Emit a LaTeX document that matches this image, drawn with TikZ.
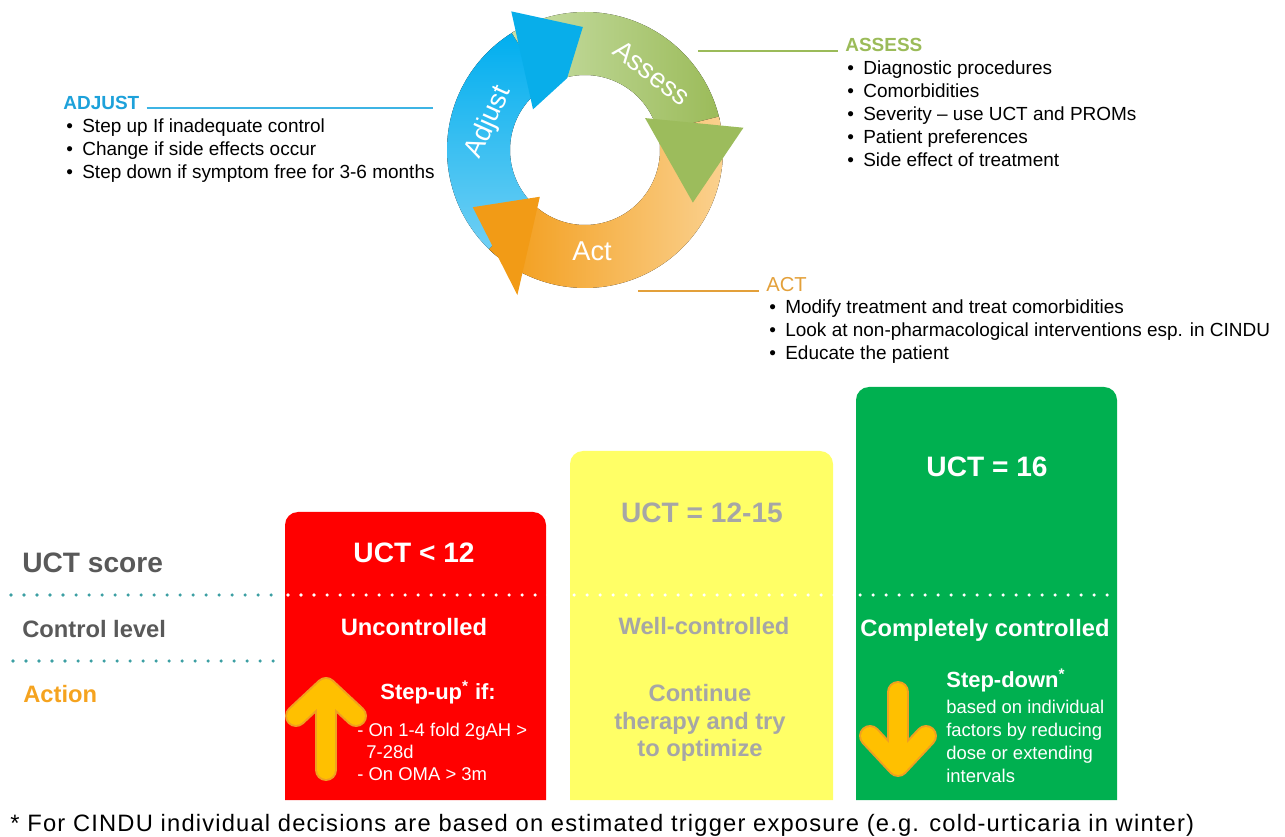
\documentclass[tikz,border=0pt]{standalone}
\usepackage{fontspec}
\setmainfont{Liberation Sans}
\usetikzlibrary{positioning}

\definecolor{adjblue}{HTML}{1DA1DA}
\definecolor{adjline}{HTML}{3DB4E4}
\definecolor{assgreen}{HTML}{9BBB59}
\definecolor{actorange}{HTML}{E3A03A}
\definecolor{textgrey}{HTML}{595959}
\definecolor{softgrey}{HTML}{A6A6A6}
\definecolor{dotteal}{HTML}{3C9FA3}
\definecolor{uctred}{HTML}{FF0000}
\definecolor{uctyellow}{HTML}{FFFF66}
\definecolor{uctgreen}{HTML}{00B050}
\definecolor{actionorange}{HTML}{F5A31F}
\definecolor{arrowfill}{HTML}{FFC000}
\definecolor{arrowedge}{HTML}{F0A020}
\definecolor{bluelight}{HTML}{73D0F4}
\definecolor{bluedark}{HTML}{00AEEF}
\definecolor{bluehead}{HTML}{08AEEA}
\definecolor{greenlight}{HTML}{C9DFA8}
\definecolor{greendark}{HTML}{9BBB59}
\definecolor{greenhead}{HTML}{9CBC5C}
\definecolor{orangedark}{HTML}{F29A14}
\definecolor{orangelight}{HTML}{FBD496}
\definecolor{orangehead}{HTML}{F29B16}

\newcommand{\bul}{\makebox[0.32cm][l]{\textbullet}}

\begin{document}
\begin{tikzpicture}[x=0.02cm,y=-0.02cm,
  listtxt/.style={anchor=base west,inner sep=0pt,font=\fontsize{10.8}{13}\selectfont},
  hdr/.style={anchor=base west,inner ysep=0pt,inner xsep=0.14cm,font=\bfseries\fontsize{10.8}{13}\selectfont},
  leader/.style={line width=1.1pt},
  ringtxt/.style={text=white,font=\fontsize{15.5}{18}\selectfont},
  score/.style={anchor=base,inner sep=0pt,font=\bfseries\fontsize{16}{19}\selectfont},
  level/.style={anchor=base,inner sep=0pt,font=\bfseries\fontsize{13.5}{16}\selectfont},
  rowlbl/.style={anchor=base west,inner sep=0pt,font=\bfseries\fontsize{13.5}{16}\selectfont},
  small/.style={anchor=base west,inner sep=0pt,text=white,font=\fontsize{10.5}{12}\selectfont},
  dotrule/.style={line width=2pt,line cap=round,dash pattern=on 0pt off 7.4pt},
  fatarrow/.style={line width=12.5pt,line cap=round,line join=round,draw=arrowedge},
  fatfill/.style={line width=10.2pt,line cap=round,line join=round,draw=arrowfill},
]
\useasboundingbox (0,0) rectangle (1285,837);

% cycle
\begin{scope}[shift={(585,150)},y=0.02cm]
\fill[bottom color=bluelight,top color=bluedark] (230:138) arc[start angle=230,end angle=121,radius=138] -- (121:75) arc[start angle=121,end angle=230,radius=75] -- cycle;
\fill[left color=greenlight,right color=greendark] (122:138) arc[start angle=122,end angle=12,radius=138] -- (12:75) arc[start angle=12,end angle=122,radius=75] -- cycle;
\fill[left color=orangedark,right color=orangelight] (14:138) arc[start angle=14,end angle=-134,radius=138] -- (-134:75) arc[start angle=-134,end angle=14,radius=75] -- cycle;
\fill[bluehead] (142:66) -- (118:157) -- (91:123) -- (104:74) -- cycle;
\fill[greenhead] (28:68) -- (8:160) -- (-26:120) -- cycle;
\fill[orangehead] (-134:65) -- (-115:160) -- (-153:126) -- cycle;
\node[ringtxt,rotate=66] (adjtxt) at (164:100) {Adjust};
\node[ringtxt,rotate=-38] (asstxt) at (49:102) {Assess};
\node[ringtxt] (acttxt) at (-86:102) {Act};
\end{scope}

% adjust
\node[hdr,text=adjblue] (adjhdr) at (56,110) {ADJUST};
\coordinate (adjln) at (433,108);
\draw[leader,adjline] (adjhdr.east |- adjln) -- (adjln);
\node[listtxt] (adj1) at (66,133) {\bul Step up If inadequate control};
\node[listtxt] (adj2) at (66,156) {\bul Change if side effects occur};
\node[listtxt] (adj3) at (66,179) {\bul Step down if symptom free for 3-6 months};

% assess
\node[hdr,text=assgreen] (asshdr) at (838,52) {ASSESS};
\coordinate (assln) at (698,51);
\draw[leader,assgreen] (assln) -- (assln -| asshdr.west);
\node[listtxt] (ass1) at (847,75) {\bul Diagnostic procedures};
\node[listtxt] (ass2) at (847,98) {\bul Comorbidities};
\node[listtxt] (ass3) at (847,121) {\bul Severity -- use UCT and PROMs};
\node[listtxt] (ass4) at (847,144) {\bul Patient preferences};
\node[listtxt] (ass5) at (847,167) {\bul Side effect of treatment};

% act
\node[hdr,text=actorange,font=\fontsize{11.5}{13}\selectfont] (acthdr) at (759,292) {ACT};
\coordinate (actln) at (638,291);
\draw[leader,actorange] (actln) -- (actln -| acthdr.west);
\node[listtxt] (act1) at (769,314) {\bul Modify treatment and treat comorbidities};
\node[listtxt] (act2) at (769,337) {\bul Look at non-pharmacological interventions esp. in CINDU};
\node[listtxt] (act3) at (769,360) {\bul Educate the patient};

% boxes
\fill[uctred] (285,800) [rounded corners=0.26cm] -- (285,512) -- (546,512) [sharp corners] -- (546,800) -- cycle;
\fill[uctyellow] (570,800) [rounded corners=0.26cm] -- (570,451) -- (833,451) [sharp corners] -- (833,800) -- cycle;
\fill[uctgreen] (856,800) [rounded corners=0.26cm] -- (856,387) -- (1117,387) [sharp corners] -- (1117,800) -- cycle;

% rows
\node[rowlbl,text=textgrey,font=\bfseries\fontsize{16}{19}\selectfont] (scorelbl) at (22,573) {UCT score};
\node[rowlbl,text=textgrey] (levellbl) at (22,638) {Control level};
\node[rowlbl,text=actionorange] (actionlbl) at (23,703) {Action};
\coordinate (rowA1) at (11,595);
\coordinate (rowA2) at (275,595);
\coordinate (rowB1) at (13,661);
\coordinate (rowB2) at (278,661);
\coordinate (boxA1) at (288,595);
\coordinate (boxA2) at (1114,595);
\draw[dotrule,dotteal] (rowA1) -- (rowA2);
\draw[dotrule,dotteal] (rowB1) -- (rowB2);
\draw[dotrule,white] (boxA1) -- (boxA2);

\node[score,text=white] (redscore) at (414,563) {UCT < 12};
\node[score,text=softgrey] (yelscore) at (702,523) {UCT = 12-15};
\node[score,text=white] (grnscore) at (987,477) {UCT = 16};
\node[level,text=white] (redlevel) at (414,636) {Uncontrolled};
\node[level,text=softgrey] (yellevel) at (704,635) {Well-controlled};
\node[level,text=white] (grnlevel) at (985,637) {Completely controlled};

% actions
\coordinate (uptip) at (326,688);
\coordinate (upbot) at (326,770);
\coordinate (upleft) at (296,716);
\coordinate (upright) at (356,716);
\draw[fatarrow] (upbot) -- (uptip) (upleft) -- (uptip) -- (upright);
\draw[fatfill] (upbot) -- (uptip) (upleft) -- (uptip) -- (upright);
\node[anchor=base west,inner sep=0pt,text=white,font=\bfseries\fontsize{12.5}{15}\selectfont] (stepup) at (380,699) {Step-up\textsuperscript{*} if:};
\node[small] (up1) at (357,736) {- On 1-4 fold 2gAH >};
\node[small] (up2) at (366,758) {7-28d};
\node[small] (up3) at (357,780) {- On OMA > 3m};

\node[level,text=softgrey] (cont1) at (700,702) {Continue};
\node[level,text=softgrey] (cont2) at (700,729) {therapy and try};
\node[level,text=softgrey] (cont3) at (700,756) {to optimize};

\coordinate (dntip) at (898,766);
\coordinate (dntop) at (898,692);
\coordinate (dnleft) at (870,736);
\coordinate (dnright) at (926,736);
\draw[fatarrow] (dntop) -- (dntip) (dnleft) -- (dntip) -- (dnright);
\draw[fatfill] (dntop) -- (dntip) (dnleft) -- (dntip) -- (dnright);
\node[anchor=base west,inner sep=0pt,text=white,font=\bfseries\fontsize{12.5}{15}\selectfont] (stepdn) at (946,687) {Step-down\textsuperscript{*}};
\node[small] (dn1) at (946,713) {based on individual};
\node[small] (dn2) at (946,736) {factors by reducing};
\node[small] (dn3) at (946,759) {dose or extending};
\node[small] (dn4) at (946,782) {intervals};

\node[anchor=base west,inner sep=0pt,font=\fontsize{13.5}{15}\selectfont\addfontfeatures{LetterSpace=5}] (footnote) at (10,831) {* For CINDU individual decisions are based on estimated trigger exposure (e.g. cold-urticaria in winter)};
\end{tikzpicture}
\end{document}
